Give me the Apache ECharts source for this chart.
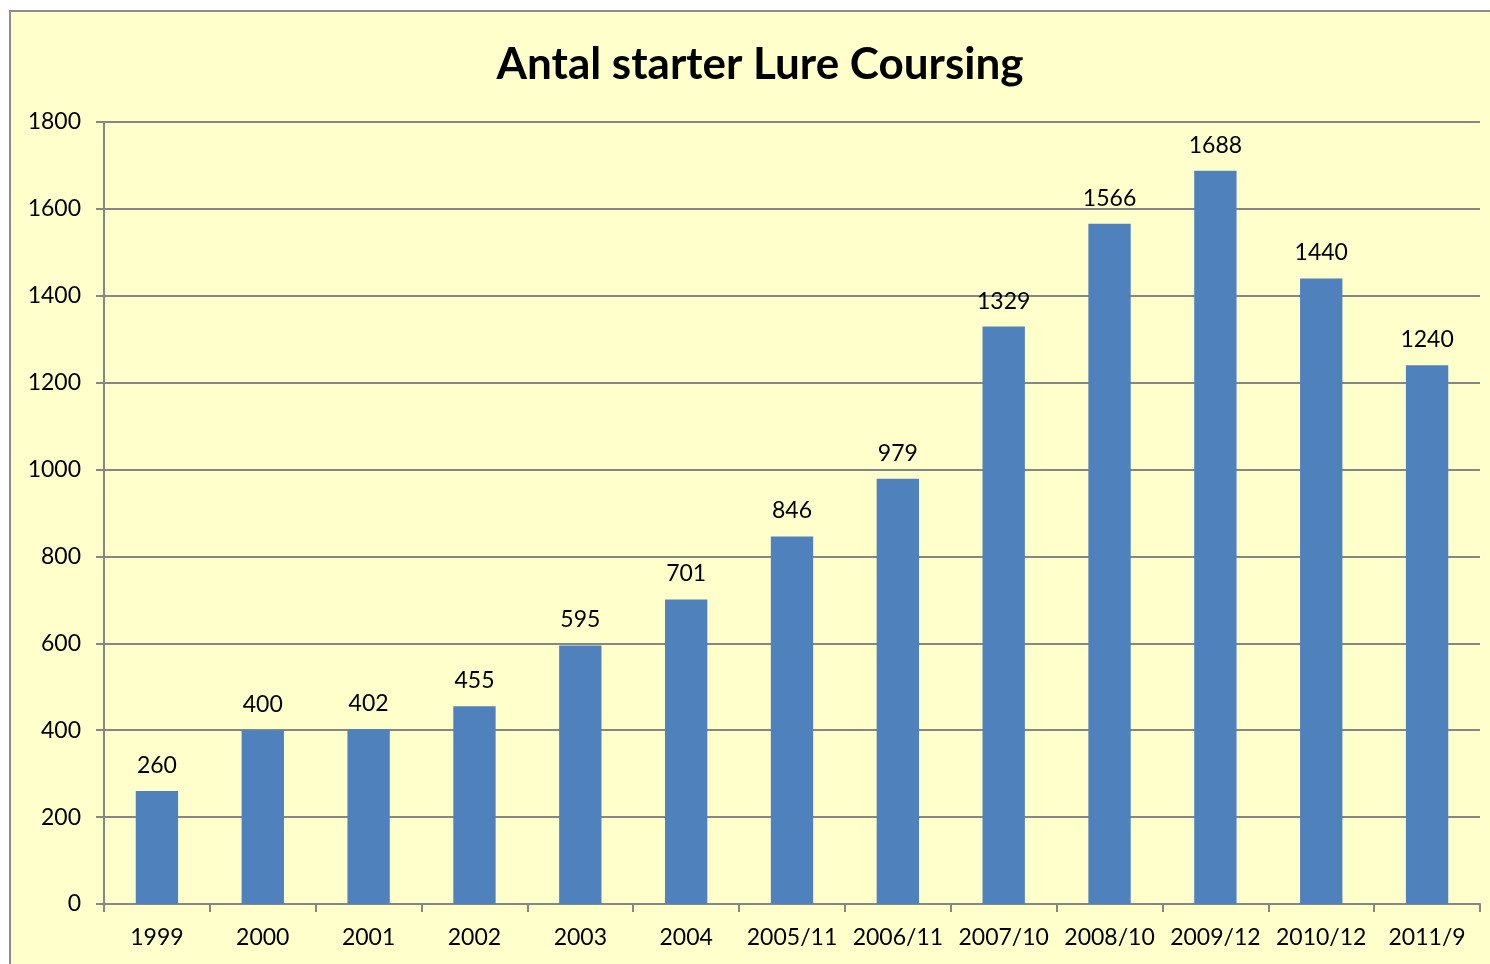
<!DOCTYPE html>
<html>
<head>
<meta charset="utf-8">
<script src="https://cdn.jsdelivr.net/npm/echarts@6/dist/echarts.min.js"></script>
<style>
  html, body { margin: 0; padding: 0; background: #fff; overflow: hidden; }
  #frame {
    position: absolute; left: 9px; top: 10px; width: 1500px; height: 980px;
    background: #ffffcc; border: 2px solid #8c8c8c; box-sizing: border-box;
  }
  #chart { position: absolute; left: 0; top: 0; width: 1490px; height: 964px; }
</style>
</head>
<body>
<div id="frame"></div>
<div id="chart"></div>
<script>
// sesonger / år
const categories = ["1999", "2000", "2001", "2002", "2003", "2004", "2005/11", "2006/11",
  "2007/10", "2008/10", "2009/12", "2010/12", "2011/9"];
// antal starter
const starter = [260, 400, 402, 455, 595, 701, 846, 979, 1329, 1566, 1688, 1440, 1240];

const font = "Lato, 'Open Sans', sans-serif";
const myChart = echarts.init(document.getElementById("chart"));
myChart.setOption({
  backgroundColor: "transparent",
  animation: false,
  title: {
    text: "Antal starter Lure Coursing",
    left: 755, top: 38, textAlign: "center",
    textStyle: { fontFamily: font, fontSize: 44, fontWeight: "bold", color: "#000" }
  },
  grid: { left: 104, right: 10, top: 122, bottom: 60 },
  xAxis: {
    type: "category",
    data: categories,
    axisLine: { lineStyle: { color: "#868686", width: 2 } },
    axisTick: { show: true, length: 8, interval: 0, lineStyle: { color: "#868686", width: 2 } },
    axisLabel: { interval: 0, margin: 22, fontFamily: font, fontSize: 23, color: "#000" }
  },
  yAxis: {
    type: "value",
    min: 0, max: 1800, interval: 200,
    axisLine: { show: true, lineStyle: { color: "#868686", width: 2 } },
    axisTick: { show: true, length: 8, lineStyle: { color: "#868686", width: 2 } },
    splitLine: { lineStyle: { color: "#868686", width: 2 } },
    axisLabel: { margin: 23, fontFamily: font, fontSize: 23, color: "#000",
      formatter: v => String(v) }
  },
  series: [{
    type: "bar",
    data: starter,
    barWidth: "40%",
    itemStyle: { color: "#4f81bd" },
    label: {
      show: true, position: "top", distance: 14,
      fontFamily: font, fontSize: 23, color: "#000"
    }
  }]
});
</script>
</body>
</html>
